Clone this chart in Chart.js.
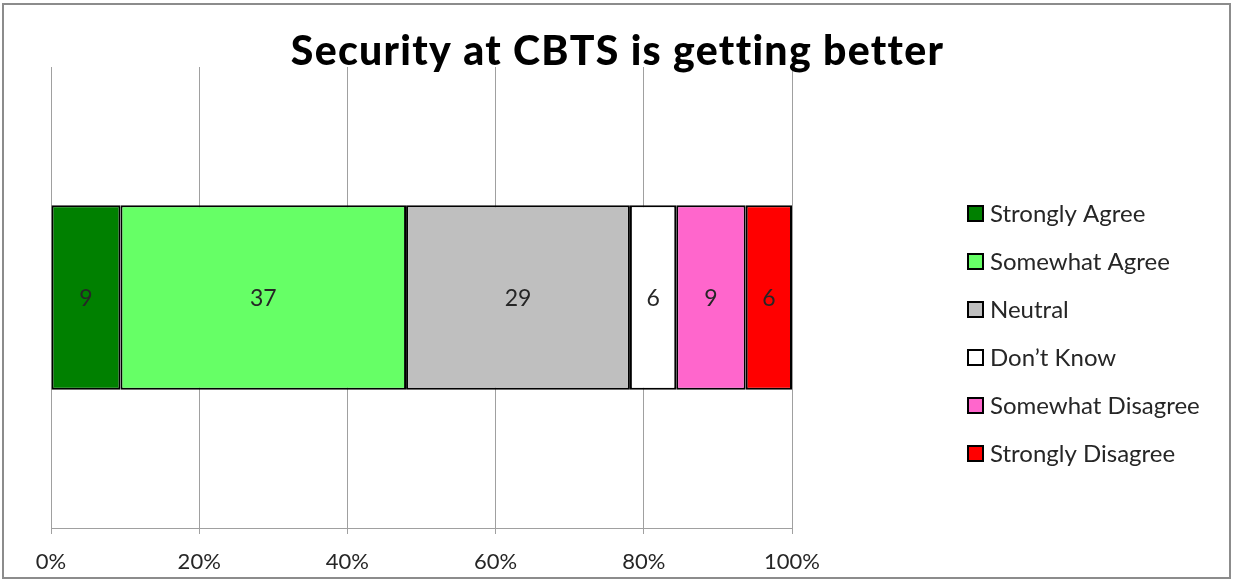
<!DOCTYPE html>
<html>
<head>
<meta charset="utf-8">
<script src="https://cdn.jsdelivr.net/npm/chart.js@4/dist/chart.umd.min.js"></script>
<style>
  html, body { margin: 0; padding: 0; background: #fff; }
  #wrap { position: relative; width: 1233px; height: 580px; }
  #frame {
    position: absolute; left: 2px; top: 3px; width: 1229px; height: 576px;
    box-sizing: border-box; border: 2px solid #8c8c8c; pointer-events: none;
  }
  canvas { position: absolute; left: 0; top: 0; }
</style>
</head>
<body>
<div id="wrap">
  <canvas id="chart" width="1233" height="580"></canvas>
  <div id="frame"></div>
</div>
<script>
const chartTitle = 'Security at CBTS is getting better';
const categories = [chartTitle];
const responses = ['Strongly Agree', 'Somewhat Agree', 'Neutral', 'Don\u2019t Know', 'Somewhat Disagree', 'Strongly Disagree'];
const counts = [9, 37, 29, 6, 9, 6];
const colors = ['#008000', '#66ff66', '#bfbfbf', '#ffffff', '#ff66cc', '#ff0000'];
const tickValues = [0, 20, 40, 60, 80, 100];

const FONT = 'Lato, "Open Sans", sans-serif';
const total = counts.reduce((a, b) => a + b, 0);

const datasets = responses.map((name, i) => ({
  label: name,
  data: [counts[i] / total * 100],
  count: counts[i],
  backgroundColor: colors[i],
  borderColor: '#000',
  borderWidth: 2,
  borderSkipped: false,
  barPercentage: 0.4,
  categoryPercentage: 1,
}));

// title centred on the whole canvas, not just the plot
const pageTitle = {
  id: 'pageTitle',
  afterDraw(chart) {
    const { ctx } = chart;
    ctx.save();
    ctx.font = `900 41px ${FONT}`;
    ctx.letterSpacing = '1.3px';
    ctx.fillStyle = '#000';
    ctx.textAlign = 'center';
    ctx.textBaseline = 'alphabetic';
    ctx.fillText(chartTitle, chart.width / 2 + 1, 65);
    ctx.restore();
  }
};

// segment counts written in the middle of each bar piece
const segmentLabels = {
  id: 'segmentLabels',
  afterDatasetsDraw(chart) {
    const { ctx } = chart;
    ctx.save();
    ctx.font = `23px ${FONT}`;
    ctx.fillStyle = '#262626';
    ctx.textAlign = 'center';
    ctx.textBaseline = 'middle';
    chart.data.datasets.forEach((ds, i) => {
      chart.getDatasetMeta(i).data.forEach(bar => {
        const p = bar.getProps(['x', 'y', 'base'], true);
        ctx.fillText(String(ds.count), (p.x + p.base) / 2, p.y + 1);
      });
    });
    ctx.restore();
  }
};

// legend column to the right of the plot
const sideLegend = {
  id: 'sideLegend',
  afterDraw(chart) {
    const { ctx, chartArea } = chart;
    const boxX = chartArea.right + 176;
    const firstY = 213;
    const rowGap = 48;
    ctx.save();
    ctx.font = `24px ${FONT}`;
    ctx.textBaseline = 'middle';
    ctx.textAlign = 'left';
    chart.data.datasets.forEach((ds, i) => {
      const y = firstY + i * rowGap;
      ctx.fillStyle = ds.backgroundColor;
      ctx.fillRect(boxX, y - 7, 15, 15);
      ctx.lineWidth = 2;
      ctx.strokeStyle = '#000';
      ctx.strokeRect(boxX, y - 7, 15, 15);
      ctx.fillStyle = '#262626';
      ctx.fillText(ds.label, boxX + 22, y + 1);
    });
    ctx.restore();
  }
};

new Chart(document.getElementById('chart'), {
  type: 'bar',
  data: { labels: categories, datasets },
  options: {
    indexAxis: 'y',
    responsive: false,
    animation: false,
    layout: { padding: { left: 51, right: 441, top: 67, bottom: 6 } },
    scales: {
      x: {
        stacked: true,
        min: 0,
        max: 100,
        afterBuildTicks(scale) { scale.ticks = tickValues.map(v => ({ value: v })); },
        afterFit(scale) { scale.height = 46; },
        grid: { color: '#a0a0a0', lineWidth: 1, tickLength: 6, drawTicks: true },
        border: { display: true, color: '#a0a0a0', width: 1 },
        ticks: {
          padding: 15,
          color: '#262626',
          font: { family: FONT, size: 22 },
          callback: v => v + '%',
        },
      },
      y: { stacked: true, display: false },
    },
    plugins: {
      legend: { display: false },
      tooltip: { enabled: false },
      title: { display: false },
    },
  },
  plugins: [pageTitle, segmentLabels, sideLegend],
});
</script>
</body>
</html>
